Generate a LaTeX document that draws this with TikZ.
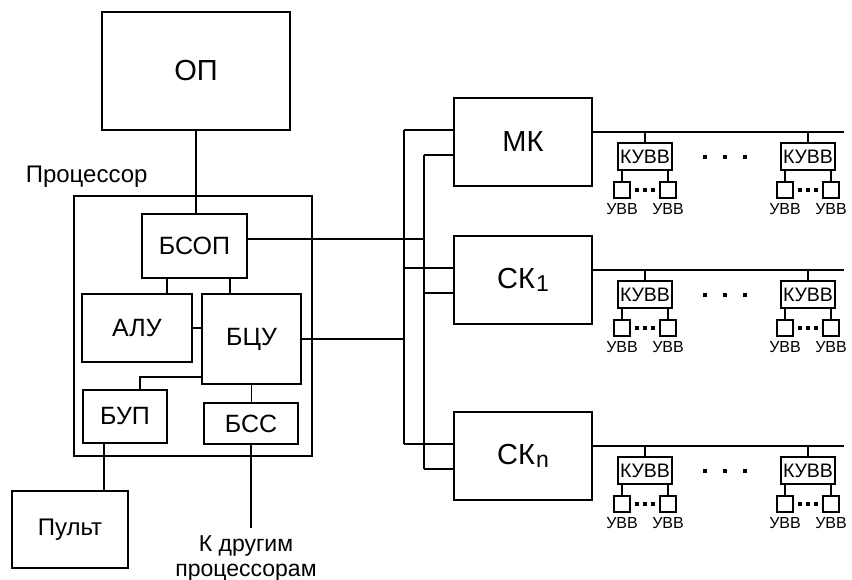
\documentclass[tikz,border=0pt]{standalone}
\usepackage{fontspec}
\setmainfont{Liberation Sans}
\newcommand\fBig{\fontsize{29pt}{29pt}\selectfont}
\newcommand\fMid{\fontsize{25pt}{25pt}\selectfont}
\newcommand\fLab{\fontsize{24pt}{24pt}\selectfont}
\newcommand\fBot{\fontsize{23pt}{25pt}\selectfont}
\newcommand\fKuvv{\fontsize{19.5pt}{19.5pt}\selectfont}
\newcommand\fUvv{\fontsize{16pt}{16pt}\selectfont}
\newcommand\skSub[1]{\kern1pt\raisebox{-3pt}{\fontsize{23pt}{23pt}\selectfont #1}}
\begin{document}
\begin{tikzpicture}[x=1pt,y=-1pt,line width=1.6pt,
  blk/.style 2 args={draw, rectangle, inner sep=0pt, minimum width=#1pt, minimum height=#2pt},
  kuvv/.style={draw, rectangle, inner sep=0pt, minimum width=54pt, minimum height=27pt, font=\fKuvv},
  uvv/.style={draw, rectangle, inner sep=0pt, minimum width=16pt, minimum height=16pt},
  uvvlab/.style={inner sep=0pt, font=\fUvv}]
\useasboundingbox (0,0) rectangle (852,580);

% main memory and processor
\node[blk={188}{118}, font=\fBig] (op) at (196,71) {ОП};
\node[blk={238}{260}] (proc) at (193,326) {};
\node[font=\fLab, anchor=base west, inner sep=0pt] (proclabel) at (25,183) {Процессор};
\node[blk={105}{64}, font=\fMid] (bsop) at (194.5,246) {БСОП};
\node[blk={110}{68}, font=\fMid] (alu) at (137,328) {АЛУ};
\node[blk={99}{90}, font=\fMid] (bcu) at (251.5,339) {БЦУ};
\node[blk={84}{53}, font=\fMid] (bup) at (125,416.5) {БУП};
\node[blk={94}{41}, font=\fMid] (bss) at (251,423.5) {БСС};
\node[blk={116}{77}, font=\fLab] (pult) at (70,529.5) {Пульт};
\node[font=\fBot, align=center, anchor=north, inner sep=0pt] (other) at (246,535) {К другим\\процессорам};

% channels
\node[blk={138}{88}, font=\fBig] (mk) at (523,142) {МК};
\node[blk={138}{88}, font=\fBig] (sk1) at (523,280) {СК\skSub{1}};
\node[blk={138}{88}, font=\fBig] (skn) at (523,456) {СК\skSub{n}};

% processor internal connectors
\draw (op.south) -- (op.south |- bsop.north);
\coordinate (t1) at ([xshift=-27.5pt]bsop.south);
\coordinate (t2) at ([xshift=35.5pt]bsop.south);
\draw (t1) -- (t1 |- alu.north);
\draw (t2) -- (t2 |- bcu.north);
\draw (alu.east) -- (alu.east -| bcu.west);
\coordinate (t3) at ([yshift=-38pt]bcu.west);
\coordinate (bupt) at ([xshift=15pt]bup.north);
\draw (t3) -| (bupt);
\draw (bcu.south) -- (bcu.south |- bss.north);
\coordinate (bupb) at ([xshift=-21pt]bup.south);
\draw (bupb) -- (bupb |- pult.north);
\coordinate (bssend) at ([yshift=-83pt]bss.south);
\draw (bss.south) -- (bssend);

% buses
\coordinate (bx1) at (404,0);
\coordinate (bx2) at (424,0);
\coordinate (rx) at (844,0);
\foreach \b in {mk,sk1,skn}{
  \coordinate (\b-in1) at ([yshift=12pt]\b.west);
  \coordinate (\b-in2) at ([yshift=-13pt]\b.west);
  \draw (\b-in1 -| bx1) -- (\b-in1);
  \draw (\b-in2 -| bx2) -- (\b-in2);
}
\draw (mk-in1 -| bx1) -- (skn-in1 -| bx1);
\draw (mk-in2 -| bx2) -- (skn-in2 -| bx2);
\coordinate (bs) at ([yshift=7pt]bsop.east);
\draw (bs) -- (bs -| bx2);
\draw (bcu.east) -- (bcu.east -| bx1);

% I/O rows
\foreach \row/\by in {mk/132,sk1/270,skn/446}{
  \coordinate (\row-bus) at ([yshift=10pt]\row.east);
  \draw (\row-bus) -- (\row-bus -| rx);
  \foreach \g/\gx in {a/645,b/808}{
    \node[kuvv] (\row-\g) at (\gx,\by+24.5) {КУВВ};
    \draw (\row-\g.north) -- (\row-\g.north |- \row-bus);
    \node[uvv] (\row-\g-l) at (\gx-23,\by+58) {};
    \node[uvv] (\row-\g-r) at (\gx+23,\by+58) {};
    \draw (\row-\g-l.north |- \row-\g.south) -- (\row-\g-l.north);
    \draw (\row-\g-r.north |- \row-\g.south) -- (\row-\g-r.north);
    \foreach \d in {-8,0,8}
      \fill (\gx+\d-1.6,\by+56.4) rectangle ++(3.2,3.2);
    \node[uvvlab] (\row-\g-lt) at (\gx-23,\by+77) {УВВ};
    \node[uvvlab] (\row-\g-rt) at (\gx+23,\by+77) {УВВ};
  }
  \foreach \dx in {705,725,745}
    \fill (\dx-2.2,\by+22.8) rectangle ++(4.4,4.4);
}
\end{tikzpicture}
\end{document}
